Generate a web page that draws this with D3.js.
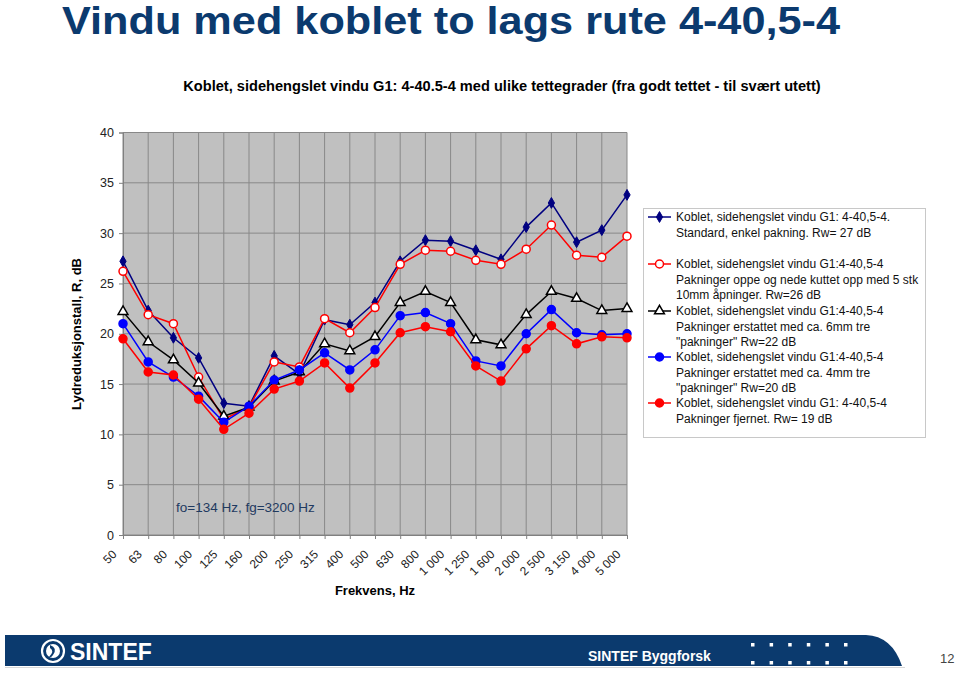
<!DOCTYPE html>
<html>
<head>
<meta charset="utf-8">
<script src="https://cdn.jsdelivr.net/npm/d3@7"></script>
<style>
  body { margin: 0; background: #fff; }
  svg { display: block; font-family: "Liberation Sans", Arial, sans-serif; }
</style>
</head>
<body>
<svg id="chart" width="960" height="673"></svg>
<script>
const categories = ["50","63","80","100","125","160","200","250","315","400","500","630","800","1 000","1 250","1 600","2 000","2 500","3 150","4 000","5 000"];
const seriesStandard = [27.2,22.3,19.6,17.6,13.1,12.8,17.8,16.0,21.4,20.9,23.1,27.2,29.3,29.2,28.3,27.4,30.6,33.0,29.1,30.3,33.8];
const seriesKuttet   = [26.2,21.9,21.0,15.7,11.5,12.7,17.2,16.7,21.5,20.1,22.6,26.9,28.3,28.2,27.3,26.9,28.4,30.8,27.8,27.6,29.7];
const seriesTre6mm   = [22.2,19.2,17.4,15.1,11.8,12.7,15.3,16.2,19.0,18.3,19.7,23.1,24.2,23.1,19.4,18.9,21.9,24.2,23.5,22.3,22.5];
const seriesTre4mm   = [21.0,17.2,15.7,13.8,11.2,12.8,15.4,16.4,18.1,16.4,18.4,21.8,22.1,21.0,17.3,16.8,20.0,22.4,20.1,19.9,20.0];
const seriesFjernet  = [19.5,16.2,15.9,13.5,10.5,12.1,14.5,15.3,17.1,14.6,17.1,20.1,20.7,20.2,16.8,15.3,18.5,20.8,19.0,19.7,19.6];
const yTicks = [0,5,10,15,20,25,30,35,40];
const legendLabels = [
  ["Koblet, sidehengslet vindu G1: 4-40,5-4.", "Standard, enkel pakning. Rw= 27 dB"],
  ["Koblet, sidehengslet vindu G1:4-40,5-4", "Pakninger oppe og nede kuttet opp med 5 stk", "10mm åpninger. Rw=26 dB"],
  ["Koblet, sidehengslet vindu G1:4-40,5-4", "Pakninger erstattet med ca. 6mm tre", "\"pakninger\" Rw=22 dB"],
  ["Koblet, sidehengslet vindu G1:4-40,5-4", "Pakninger erstattet med ca. 4mm tre", "\"pakninger\" Rw=20 dB"],
  ["Koblet, sidehengslet vindu G1:  4-40,5-4", "Pakninger fjernet. Rw= 19 dB"]
];

const series = [
  {values: seriesStandard, color: "#000080", marker: "diamond", fill: "#000080"},
  {values: seriesKuttet,   color: "#FF0000", marker: "circle",  fill: "#FFFFFF"},
  {values: seriesTre6mm,   color: "#000000", marker: "triangle",fill: "#FFFFFF"},
  {values: seriesTre4mm,   color: "#0000FF", marker: "circle",  fill: "#0000FF"},
  {values: seriesFjernet,  color: "#FF0000", marker: "circle",  fill: "#FF0000"}
];

const svg = d3.select("#chart");
const pLeft = 123, pRight = 627, pTop = 132.5, pBottom = 535;

const x = d3.scalePoint().domain(categories).range([pLeft, pRight]);
const y = d3.scaleLinear().domain([0, 40]).range([pBottom, pTop]);

// Title
svg.append("text").attr("x", 62).attr("y", 34)
  .attr("font-size", 39).attr("font-weight", "bold").attr("fill", "#0B3A6E")
  .attr("textLength", 778).attr("lengthAdjust", "spacingAndGlyphs")
  .text("Vindu med koblet to lags rute 4-40,5-4");

// Subtitle
svg.append("text").attr("x", 502).attr("y", 91).attr("text-anchor", "middle")
  .attr("font-size", 14.6).attr("font-weight", "bold").attr("fill", "#000")
  .text("Koblet, sidehengslet vindu G1: 4-40.5-4 med ulike tettegrader (fra godt tettet - til svært utett)");

// Plot area
svg.append("rect").attr("x", pLeft).attr("y", pTop).attr("width", pRight - pLeft).attr("height", pBottom - pTop)
  .attr("fill", "#C0C0C0");

// Horizontal grid
svg.append("g").selectAll("line").data(yTicks).join("line")
  .attr("x1", pLeft).attr("x2", pRight).attr("y1", d => y(d)).attr("y2", d => y(d))
  .attr("stroke", "#888888").attr("stroke-width", 1);
// Vertical grid
svg.append("g").selectAll("line").data(categories).join("line")
  .attr("x1", d => x(d)).attr("x2", d => x(d)).attr("y1", pTop).attr("y2", pBottom)
  .attr("stroke", "#888888").attr("stroke-width", 1);

// Y axis
const yAxis = svg.append("g").attr("transform", `translate(${pLeft},0)`)
  .call(d3.axisLeft(y).tickValues(yTicks).tickSize(4).tickPadding(5).tickFormat(d3.format("d")));
yAxis.select(".domain").attr("stroke", "#808080");
yAxis.selectAll(".tick line").attr("stroke", "#808080");
yAxis.selectAll("text").attr("font-size", 12.5).attr("fill", "#222").attr("font-family", "Liberation Sans, Arial, sans-serif");

// X axis
const xAxis = svg.append("g").attr("transform", `translate(0,${pBottom})`)
  .call(d3.axisBottom(x).tickSize(4).tickPadding(0));
xAxis.select(".domain").attr("stroke", "#808080");
xAxis.selectAll(".tick line").attr("stroke", "#808080");
xAxis.selectAll("text")
  .attr("font-size", 12).attr("fill", "#222").attr("font-family", "Liberation Sans, Arial, sans-serif")
  .attr("text-anchor", "end").attr("dy", null).attr("y", 0)
  .attr("transform", "translate(-6,20) rotate(-45)");

// Axis titles
svg.append("text").attr("transform", "translate(81,334) rotate(-90)").attr("text-anchor", "middle")
  .attr("font-size", 13).attr("font-weight", "bold").text("Lydreduksjonstall, R, dB");
svg.append("text").attr("x", 375).attr("y", 595).attr("text-anchor", "middle")
  .attr("font-size", 13).attr("font-weight", "bold").text("Frekvens, Hz");

// Annotation
svg.append("text").attr("x", 176).attr("y", 512)
  .attr("font-size", 13.5).attr("fill", "#1F3A60").text("fo=134 Hz, fg=3200 Hz");

// Markers
function drawMarker(g, type, cx, cy, color, fill) {
  if (type === "diamond") {
    g.append("path").attr("d", d3.symbol().type(d3.symbolDiamond).size(34)())
      .attr("transform", `translate(${cx},${cy})`).attr("fill", fill).attr("stroke", color).attr("stroke-width", 1);
  } else if (type === "triangle") {
    g.append("path").attr("d", d3.symbol().type(d3.symbolTriangle).size(42)())
      .attr("transform", `translate(${cx},${cy})`).attr("fill", fill).attr("stroke", color).attr("stroke-width", 1.5);
  } else {
    g.append("circle").attr("cx", cx).attr("cy", cy).attr("r", 4)
      .attr("fill", fill).attr("stroke", color).attr("stroke-width", 1.5);
  }
}

const line = d3.line().x((d, i) => x(categories[i])).y(d => y(d));
series.forEach(s => {
  const g = svg.append("g");
  g.append("path").datum(s.values).attr("d", line).attr("fill", "none")
    .attr("stroke", s.color).attr("stroke-width", 1.5);
  s.values.forEach((v, i) => drawMarker(g, s.marker, x(categories[i]), y(v), s.color, s.fill));
});

// Legend
const lg = svg.append("g");
lg.append("rect").attr("x", 643.5).attr("y", 208.5).attr("width", 282).attr("height", 229)
  .attr("fill", "#fff").attr("stroke", "#C8C8C8");
const legendY = [217, 264, 311, 357, 403];
series.forEach((s, i) => {
  const ly = legendY[i];
  lg.append("line").attr("x1", 648).attr("x2", 671).attr("y1", ly).attr("y2", ly)
    .attr("stroke", s.color).attr("stroke-width", 1.5);
  drawMarker(lg, s.marker, 659.5, ly, s.color, s.fill);
  legendLabels[i].forEach((t, j) => {
    lg.append("text").attr("x", 676).attr("y", ly + 4 + j * 15.5)
      .attr("font-size", 12).attr("fill", "#111").text(t);
  });
});

// Footer bar
const footer = svg.append("g");
footer.append("path")
  .attr("d", "M5,635 L866,635 Q892,636 902,666 L5,666 Z")
  .attr("fill", "#0B3A6E");
footer.append("line").attr("x1", 5).attr("x2", 905).attr("y1", 667.5).attr("y2", 667.5)
  .attr("stroke", "#D8D8D8");
// logo
footer.append("circle").attr("cx", 53).attr("cy", 651).attr("r", 11).attr("fill", "none").attr("stroke", "#fff").attr("stroke-width", 2.2);
footer.append("circle").attr("cx", 53).attr("cy", 651).attr("r", 7).attr("fill", "#fff");
footer.append("path").attr("d", "M50,645 Q58,648 53,655 Q51,658 49,657 Q55,651 50,648 Z").attr("fill", "#0B3A6E");
footer.append("text").attr("x", 70).attr("y", 660).attr("font-size", 23).attr("font-weight", "bold")
  .attr("fill", "#fff").text("SINTEF");
footer.append("text").attr("x", 588).attr("y", 661).attr("font-size", 14).attr("font-weight", "bold")
  .attr("fill", "#fff").text("SINTEF Byggforsk");
const dotsX = d3.range(6);
[643, 661].forEach(dy => {
  footer.append("g").selectAll("rect").data(dotsX).join("rect")
    .attr("x", d => 751 + d * 18.6).attr("y", dy).attr("width", 3.5).attr("height", 3.5).attr("fill", "#fff");
});
svg.append("text").attr("x", 940).attr("y", 663).attr("font-size", 13).attr("fill", "#444").text("12");
</script>
</body>
</html>
